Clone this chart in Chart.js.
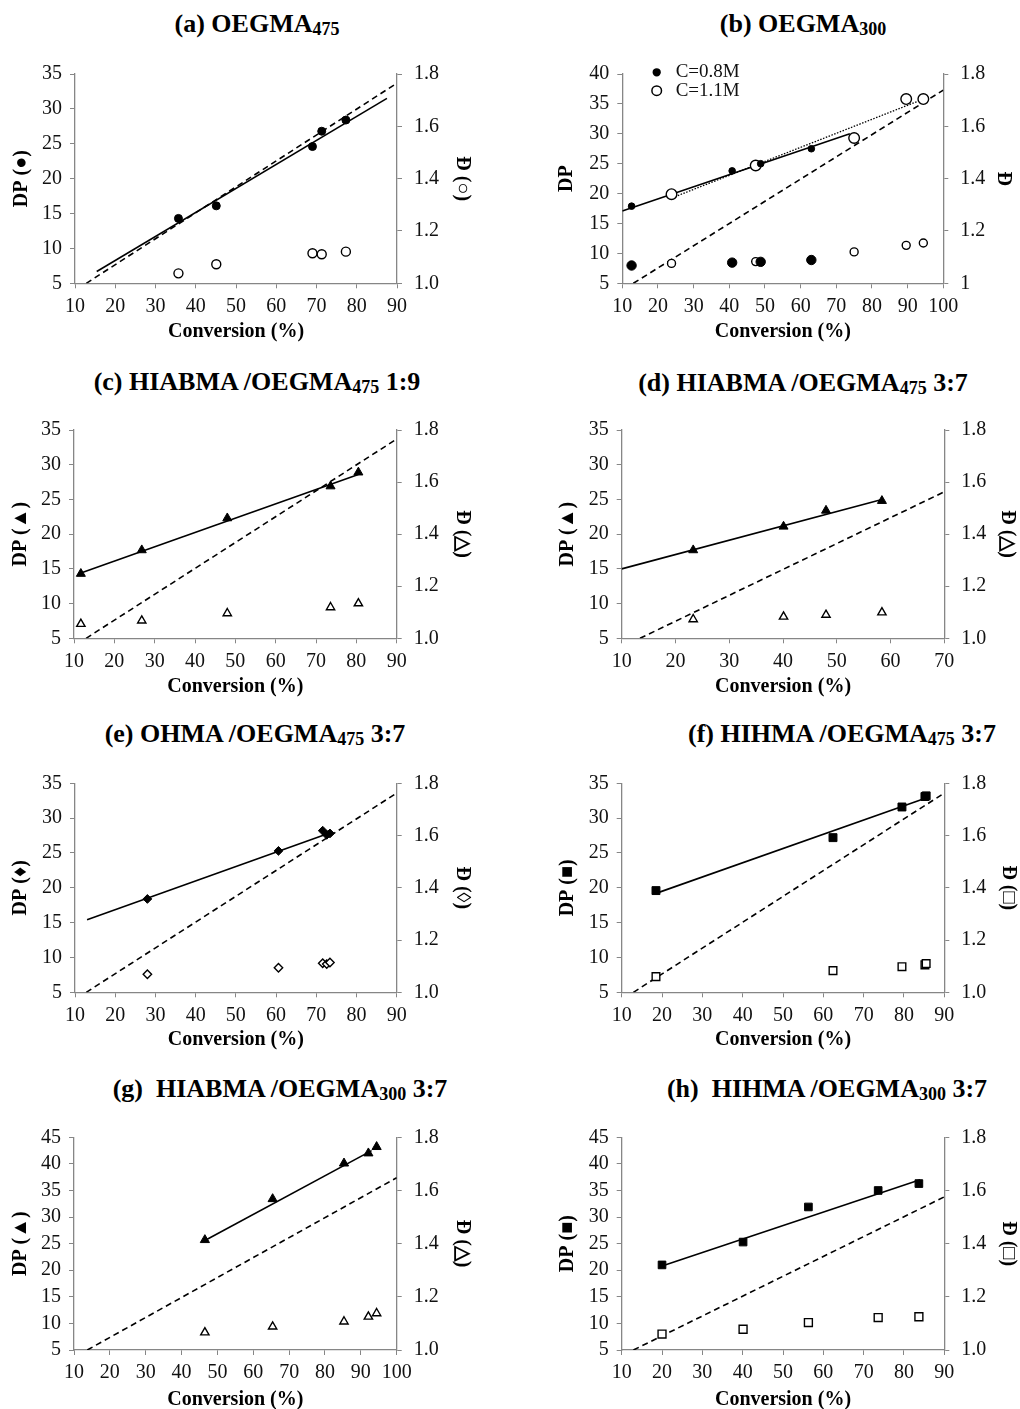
<!DOCTYPE html>
<html>
<head>
<meta charset="utf-8">
<script src="https://cdn.jsdelivr.net/npm/chart.js@4.4.1/dist/chart.umd.min.js"></script>
<style>
html, body { margin: 0; padding: 0; background: #fff; }
body { width: 1020px; height: 1409px; position: relative; overflow: hidden;
       font-family: 'Liberation Serif', 'Times New Roman', serif; }
canvas { position: absolute; }
.ttl { position: absolute; font-weight: bold; font-size: 26px; line-height: 30px; white-space: nowrap;
       transform: translateX(-50%); color: #000; }
.ttl sub { font-size: 18px; vertical-align: -3px; line-height: 0; }
</style>
</head>
<body>
<div class="ttl" style="left:257px;top:9px">(a) OEGMA<sub>475</sub></div>
<div class="ttl" style="left:803px;top:9px">(b) OEGMA<sub>300</sub></div>
<div class="ttl" style="left:257px;top:367px">(c) HIABMA /OEGMA<sub>475</sub> 1:9</div>
<div class="ttl" style="left:803px;top:368px">(d) HIABMA /OEGMA<sub>475</sub> 3:7</div>
<div class="ttl" style="left:255px;top:719px">(e) OHMA /OEGMA<sub>475</sub> 3:7</div>
<div class="ttl" style="left:842px;top:719px">(f) HIHMA /OEGMA<sub>475</sub> 3:7</div>
<div class="ttl" style="left:280px;top:1074px">(g)&nbsp; HIABMA /OEGMA<sub>300</sub> 3:7</div>
<div class="ttl" style="left:827px;top:1074px">(h)&nbsp; HIHMA /OEGMA<sub>300</sub> 3:7</div>
<script>
// ---- data ----
// (a) OEGMA475
const convA = [35.7, 45.1, 69.0, 71.3, 77.3];
const dpA = [14.3, 16.1, 24.6, 26.8, 28.4];
const dispA = [1.038, 1.073, 1.115, 1.111, 1.121];
const fitAx = [15.4, 87.5], fitAy = [6.7, 31.5];
const thAx = [12.8, 90], thAy = [5, 33.7];

// (b) OEGMA300, two concentrations
const convB08 = [12.6, 40.8, 48.8, 63.0];
const dpB08 = [17.9, 23.8, 25.0, 27.5];
const dispB08 = [1.068, 1.079, 1.082, 1.089];
const convB11 = [23.8, 47.4, 75.0, 89.6, 94.4];
const dpB11 = [19.9, 24.7, 29.3, 35.8, 35.8];
const dispB11 = [1.076, 1.083, 1.120, 1.145, 1.154];
const fitB08x = [10, 73.8], fitB08y = [17.1, 30.0];
const fitB11x = [24, 94.4], fitB11y = [19.3, 35.8];
const thBx = [13.1, 100], thBy = [5, 37.3];

// (c) HIABMA/OEGMA475 1:9
const convC = [11.7, 26.8, 48.0, 73.6, 80.5];
const dpC = [14.3, 17.7, 22.3, 26.9, 28.9];
const dispC = [1.055, 1.068, 1.096, 1.119, 1.134];
const fitCx = [11.7, 80.5], fitCy = [14.4, 28.6];
const thCx = [13.0, 90], thCy = [5, 33.7];

// (d) HIABMA/OEGMA475 3:7
const convD = [23.3, 40.1, 48.0, 58.4];
const dpD = [17.7, 21.1, 23.4, 24.8];
const dispD = [1.073, 1.083, 1.090, 1.099];
const fitDx = [10, 58.4], fitDy = [15.0, 25.0];
const thDx = [13.4, 70], thDy = [5, 26.1];

// (e) OHMA/OEGMA475 3:7
const convE = [28.0, 60.6, 71.6, 72.6, 73.4];
const dpE = [18.4, 25.3, 28.2, 27.6, 27.8];
const dispE = [1.069, 1.094, 1.111, 1.108, 1.114];
const fitEx = [13, 73.5], fitEy = [15.4, 27.9];
const thEx = [12.8, 90], thEy = [5, 33.6];

// (f) HIHMA/OEGMA475 3:7
const convF = [18.5, 62.4, 79.5, 85.2, 85.5];
const dpF = [19.6, 27.2, 31.6, 33.1, 33.2];
const dispF = [1.060, 1.083, 1.098, 1.105, 1.110];
const fitFx = [18.5, 86], fitFy = [19.2, 33.0];
const thFx = [12.9, 90], thFy = [5, 33.6];

// (g) HIABMA/OEGMA300 3:7
const convG = [46.5, 65.4, 85.3, 92.1, 94.4];
const dpG = [25.7, 33.4, 40.1, 42.0, 43.2];
const dispG = [1.066, 1.088, 1.107, 1.125, 1.138];
const fitGx = [46.5, 93], fitGy = [25.6, 42.5];
const thGx = [13.7, 100], thGy = [5, 37.4];

// (h) HIHMA/OEGMA300 3:7
const convH = [20.0, 40.1, 56.3, 73.6, 83.7];
const dpH = [21.0, 25.3, 31.9, 35.0, 36.3];
const dispH = [1.060, 1.078, 1.103, 1.122, 1.125];
const fitHx = [20, 84], fitHy = [20.8, 37.0];
const thHx = [12.9, 90], thHy = [5, 33.8];

// ---- drawing ----
const GREY = '#868686';
Chart.defaults.font.family = "'Liberation Serif', 'Times New Roman', serif";
Chart.defaults.color = '#111';

function pts(xs, ys) { return xs.map((x, i) => ({x: x, y: ys[i]})); }

function marks(xs, ys, axis, shape, r, filled, label) {
    return {
        label: label || '', data: pts(xs, ys), yAxisID: axis, showLine: false,
        pointStyle: shape, pointRadius: r, pointHoverRadius: r,
        pointBackgroundColor: filled ? '#000' : '#fff',
        pointBorderColor: '#000', pointBorderWidth: filled ? 1 : 1.4, order: 1
    };
}

function line(xs, ys, dash, w) {
    return {
        data: pts(xs, ys), yAxisID: 'y', showLine: true, pointRadius: 0, pointHoverRadius: 0,
        borderColor: '#000', borderWidth: w || 1.6, borderDash: dash || [], fill: false, order: 2
    };
}

function axis(min, max, step, pos, pad, text, fmt) {
    return {
        type: 'linear', position: pos, min: min, max: max,
        grid: { drawOnChartArea: false, drawTicks: true, tickLength: 5, color: GREY, lineWidth: 1 },
        border: { display: true, color: GREY, width: 1.3 },
        ticks: { stepSize: step, padding: pad, font: { size: 20 }, color: '#111',
                 autoSkip: false, maxRotation: 0, callback: fmt },
        title: { display: true, text: text, font: { size: 20, weight: 'bold' }, color: '#000', padding: 0 }
    };
}

// small legend drawn inside the plot of panel (b)
const insideLegend = {
    id: 'insideLegend',
    afterDatasetsDraw(chart, args, opts) {
        if (!opts.items) return;
        const ctx = chart.ctx, a = chart.chartArea;
        ctx.save();
        ctx.font = "19px 'Liberation Serif', serif";
        ctx.textBaseline = 'middle';
        opts.items.forEach(it => {
            const ds = chart.data.datasets[it.ds];
            const x = a.left + it.dx, y = a.top + it.dy;
            ctx.beginPath();
            ctx.arc(x, y, it.r, 0, Math.PI * 2);
            ctx.fillStyle = ds.pointBackgroundColor;
            ctx.fill();
            ctx.lineWidth = 1.5;
            ctx.strokeStyle = '#000';
            ctx.stroke();
            ctx.fillStyle = '#111';
            ctx.fillText(ds.label, x + 19, y);
        });
        ctx.restore();
    }
};

const fmt1 = v => v.toFixed(1);
const fmtB = v => Math.abs(v - 1) < 1e-6 ? '1' : v.toFixed(1);
const fmtX = v => String(Math.round(v));

function makePanel(p) {
    const g = p.box, half = 12;
    const cv = document.createElement('canvas');
    cv.width = 510; cv.height = g.h;
    cv.style.left = g.left + 'px'; cv.style.top = g.top + 'px';
    document.body.appendChild(cv);

    const xh = g.xt + half - g.B;
    const wl = g.L - (g.yt - half);
    const wr = g.y2t + half - g.R;

    const xs = axis(10, p.xmax, 10, 'bottom', 6, 'Conversion (%)', fmtX);
    xs.afterFit = s => { s.height = xh; };
    const ys = axis(5, p.ymax, 5, 'left', 8, p.yTitle, fmtX);
    ys.afterFit = s => { s.width = wl; };
    const y2s = axis(1, 1.8, 0.2, 'right', 12, p.y2Title, p.fmt || fmt1);
    y2s.afterFit = s => { s.width = wr; };

    new Chart(cv, {
        type: 'scatter',
        data: { datasets: p.datasets },
        options: {
            responsive: false, animation: false, devicePixelRatio: 1,
            layout: { padding: {
                left: g.yt - half - g.left,
                right: g.left + 510 - (g.y2t + half),
                top: g.T - g.top,
                bottom: g.top + g.h - (g.xt + half)
            } },
            plugins: { legend: { display: false }, tooltip: { enabled: false },
                       insideLegend: p.legend || {} },
            scales: { x: xs, y: ys, y2: y2s }
        },
        plugins: [insideLegend]
    });
}

const dash = [6, 4];

makePanel({
    box: { left: 0, top: 50, h: 300, L: 75, R: 397, T: 74, B: 283.3, yt: 22, y2t: 462, xt: 332 },
    xmax: 90, ymax: 35, yTitle: 'DP (●)', y2Title: 'Đ (○)',
    datasets: [
        marks(convA, dpA, 'y', 'circle', 4, true),
        marks(convA, dispA, 'y2', 'circle', 4.5, false),
        line(fitAx, fitAy), line(thAx, thAy, dash)
    ]
});

makePanel({
    box: { left: 510, top: 50, h: 300, L: 622.3, R: 943.3, T: 74, B: 283.3, yt: 566.7, y2t: 1003, xt: 332 },
    xmax: 100, ymax: 40, yTitle: 'DP', y2Title: 'Đ', fmt: fmtB,
    datasets: [
        marks(convB08, dpB08, 'y', 'circle', 3.3, true, 'C=0.8M'),
        marks(convB11, dpB11, 'y', 'circle', 5.3, false, 'C=1.1M'),
        marks(convB08, dispB08, 'y2', 'circle', 4.7, true),
        marks(convB11, dispB11, 'y2', 'circle', 4.0, false),
        line(fitB08x, fitB08y), line(fitB11x, fitB11y, [1.5, 1.5], 1.3), line(thBx, thBy, dash)
    ],
    legend: { items: [ { ds: 0, dx: 34.4, dy: -1.7, r: 3.4 }, { ds: 1, dx: 34.4, dy: 16.7, r: 4.8 } ] }
});

makePanel({
    box: { left: 0, top: 400, h: 300, L: 74, R: 396.7, T: 430, B: 638.3, yt: 21, y2t: 462, xt: 686.7 },
    xmax: 90, ymax: 35, yTitle: 'DP (▲)', y2Title: 'Đ (△)',
    datasets: [
        marks(convC, dpC, 'y', 'triangle', 5.2, true),
        marks(convC, dispC, 'y2', 'triangle', 4.8, false),
        line(fitCx, fitCy), line(thCx, thCy, dash)
    ]
});

makePanel({
    box: { left: 510, top: 400, h: 300, L: 621.7, R: 944.3, T: 430, B: 638.3, yt: 568, y2t: 1007, xt: 686.7 },
    xmax: 70, ymax: 35, yTitle: 'DP (▲)', y2Title: 'Đ (△)',
    datasets: [
        marks(convD, dpD, 'y', 'triangle', 5.2, true),
        marks(convD, dispD, 'y2', 'triangle', 4.8, false),
        line(fitDx, fitDy), line(thDx, thDy, dash)
    ]
});

makePanel({
    box: { left: 0, top: 755, h: 300, L: 75, R: 396.7, T: 783.3, B: 992.3, yt: 21, y2t: 462, xt: 1040 },
    xmax: 90, ymax: 35, yTitle: 'DP (♦)', y2Title: 'Đ (◊)',
    datasets: [
        marks(convE, dpE, 'y', 'rectRot', 4.4, true),
        marks(convE, dispE, 'y2', 'rectRot', 4.2, false),
        line(fitEx, fitEy), line(thEx, thEy, dash)
    ]
});

makePanel({
    box: { left: 510, top: 755, h: 300, L: 621.7, R: 944.3, T: 783.3, B: 992.3, yt: 568, y2t: 1008, xt: 1040 },
    xmax: 90, ymax: 35, yTitle: 'DP (■)', y2Title: 'Đ (□)',
    datasets: [
        marks(convF, dpF, 'y', 'rect', 5.6, true),
        marks(convF, dispF, 'y2', 'rect', 5.4, false),
        line(fitFx, fitFy), line(thFx, thFy, dash)
    ]
});

makePanel({
    box: { left: 0, top: 1105, h: 310, L: 74, R: 396.7, T: 1137.3, B: 1350, yt: 21, y2t: 462, xt: 1400 },
    xmax: 100, ymax: 45, yTitle: 'DP (▲)', y2Title: 'Đ (△)',
    datasets: [
        marks(convG, dpG, 'y', 'triangle', 5.3, true),
        marks(convG, dispG, 'y2', 'triangle', 4.8, false),
        line(fitGx, fitGy), line(thGx, thGy, dash)
    ]
});

makePanel({
    box: { left: 510, top: 1105, h: 310, L: 621.7, R: 944.3, T: 1137.3, B: 1350, yt: 568, y2t: 1008, xt: 1400 },
    xmax: 90, ymax: 45, yTitle: 'DP (■)', y2Title: 'Đ (□)',
    datasets: [
        marks(convH, dpH, 'y', 'rect', 5.4, true),
        marks(convH, dispH, 'y2', 'rect', 5.6, false),
        line(fitHx, fitHy), line(thHx, thHy, dash)
    ]
});
</script>
</body>
</html>
